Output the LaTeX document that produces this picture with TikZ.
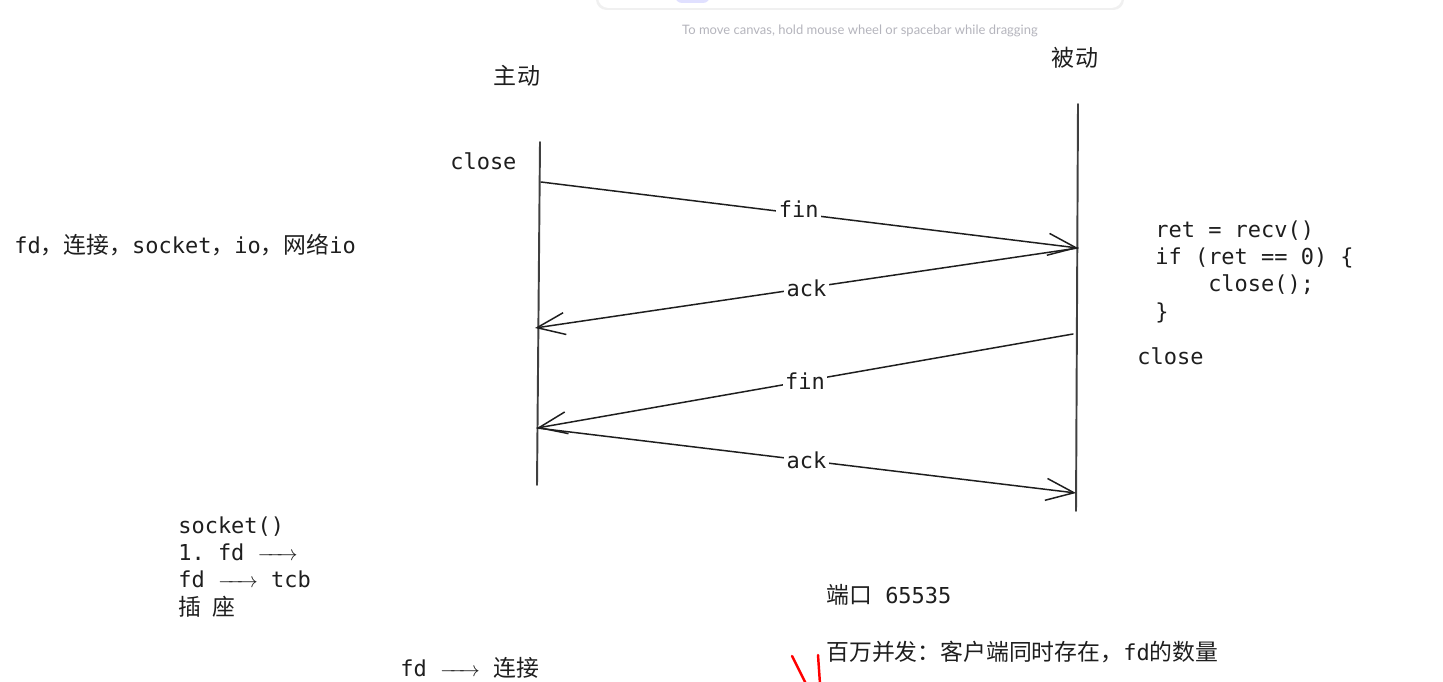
\documentclass[tikz,border=0pt]{standalone}
\usepackage{fontspec}
\setmonofont{DejaVu Sans Mono}
\newfontfamily\cjk[Scale=1.04]{Noto Sans CJK SC}
\newfontfamily\uifont{Lato}
\usetikzlibrary{arrows.meta}
\definecolor{ink}{HTML}{1E1E1E}
\definecolor{hint}{HTML}{B4B4BC}
\newcommand{\longto}{\hbox to 0.8cm{\rightarrowfill}}
\tikzset{
  txt/.style={font=\ttfamily\fontsize{12.5}{15.6}\selectfont, text=ink, inner sep=0pt, anchor=west, align=left},
  lbl/.style={font=\ttfamily\fontsize{12.5}{15}\selectfont, text=ink, fill=white, inner sep=1.5pt},
  life/.style={draw=ink!85, line width=1.1pt},
  msg/.style={draw=ink, line width=0.85pt, ->},
}
\begin{document}
\begin{tikzpicture}[x=0.02cm, y=-0.02cm, >={Straight Barb[length=5.6mm, width=4.4mm, line width=0.85pt]}, line cap=round, line join=round]
  \useasboundingbox (0,0) rectangle (1443,682);
  % canvas toolbar and hint
  \fill[black!6, rounded corners=6pt] (596,-20) rectangle (1124,10);
  \fill[white, rounded corners=6pt] (598,-20) rectangle (1122,8);
  \fill[blue!12, rounded corners=4pt] (675,-8) rectangle (710,3);
  \node[font=\uifont\fontsize{7.4}{9}\selectfont, text=hint, inner sep=0pt] (hint) at (860,31) {To move canvas, hold mouse wheel or spacebar while dragging};
  % lifelines
  \node[font=\cjk\fontsize{12.6}{15}\selectfont, text=ink, inner sep=0pt] (act) at (517,76) {主动};
  \node[font=\cjk\fontsize{12.6}{15}\selectfont, text=ink, inner sep=0pt] (pas) at (1075,58) {被动};
  \coordinate (act-top) at (540,142);
  \coordinate (act-bot) at (537,485);
  \coordinate (pas-top) at (1078,104);
  \coordinate (pas-bot) at (1076,511);
  \draw[life] (act-top) -- (act-bot);
  \draw[life] (pas-top) -- (pas-bot);
  % message ends
  \coordinate (a1) at (541,182);
  \coordinate (p1) at (1078,248);
  \coordinate (a2) at (535,328);
  \coordinate (p2) at (1073,334);
  \coordinate (a3) at (537,428);
  \coordinate (p3) at (1076,493);
  \draw[msg] (a1) -- (p1) node[lbl, pos=0.48, yshift=0.1cm] {fin};
  \draw[msg] (p1) -- (a2) node[lbl, pos=0.5] {ack};
  \draw[msg] (p2) -- (a3) node[lbl, pos=0.5] {fin};
  \draw[msg] (a3) -- (p3) node[lbl, pos=0.5] {ack};
  % notes
  \node[txt] (close-a) at (450,161) {close};
  \node[txt, anchor=north west] (code) at (1155,220) {ret = recv()\\if (ret == 0) \{\\\phantom{xxxx}close();\\\}};
  \node[txt] (close-p) at (1137,356) {close};
  \node[txt] (words) at (14,245) {fd{\cjk ，连接，}socket{\cjk ，}io{\cjk ，网络}io};
  \node[txt, anchor=north west] (sock) at (178,516) {socket()\\1. fd \longto\\fd \longto\ tcb\\{\cjk 插\hspace{0.22cm}座}};
  \node[txt] (port) at (826,595) {{\cjk 端口}\ 65535};
  \node[txt] (conc) at (826,652) {{\cjk 百万并发：客户端同时存在，}fd{\cjk 的数量}};
  \node[txt] (fdconn) at (400,668) {fd \longto\ {\cjk 连接}};
  % red marks
  \draw[red, line width=1.4pt] (792,656) -- (806,684);
  \draw[red, line width=1.4pt] (818,655) -- (820,684);
\end{tikzpicture}
\end{document}
